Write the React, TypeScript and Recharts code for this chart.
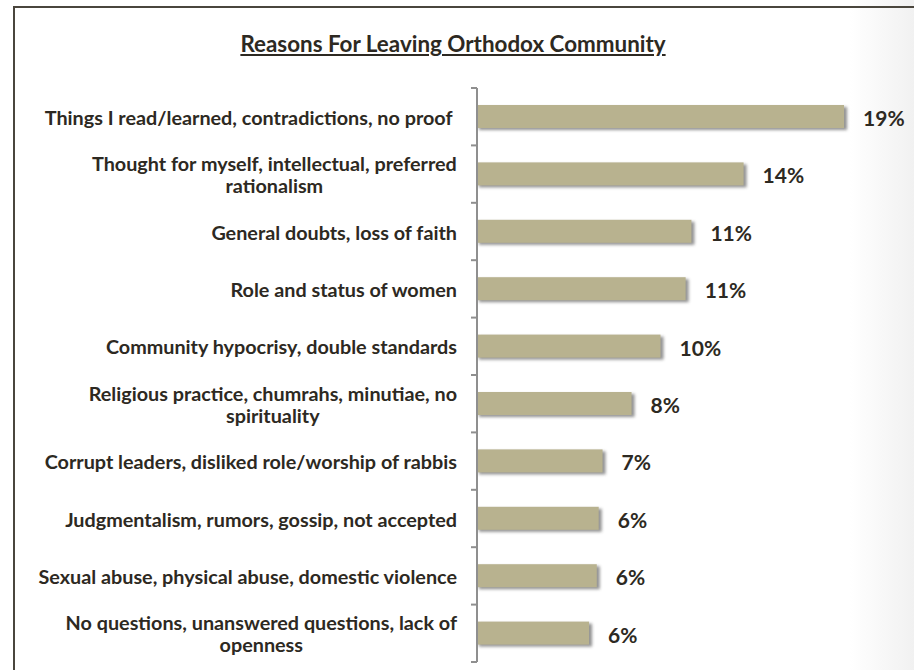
import React from "react";
import { BarChart, Bar, XAxis, YAxis, LabelList } from "recharts";

const categories = [
  "Things I read/learned, contradictions, no proof\u00a0",
  "Thought for myself, intellectual, preferred\nrationalism",
  "General doubts, loss of faith",
  "Role and status of women",
  "Community hypocrisy, double standards",
  "Religious practice, chumrahs, minutiae, no\nspirituality",
  "Corrupt leaders, disliked role/worship of rabbis",
  "Judgmentalism, rumors, gossip, not accepted",
  "Sexual abuse, physical abuse, domestic violence",
  "No questions, unanswered questions, lack of\nopenness",
];
const values = [19.0, 13.8, 11.1, 10.8, 9.5, 8.0, 6.5, 6.3, 6.2, 5.8];
const valueLabels = ["19%", "14%", "11%", "11%", "10%", "8%", "7%", "6%", "6%", "6%"];

const data = categories.map((name, i) => ({ name, value: values[i], label: valueLabels[i] }));

const W = 914;
const H = 670;
const MARGIN = { top: 88, right: 12, bottom: 8, left: 0 };
const AXIS_W = 477;
const BAND = (H - MARGIN.top - MARGIN.bottom) / categories.length;
const FONT = "Lato, 'Open Sans', sans-serif";
const LABEL_SIZE = 19.8;
const TEXT_COLOR = "#2d2922";
const BAR_COLOR = "#b8b28f";
const AXIS_COLOR = "#8f8f8f";

let canvasCtx: CanvasRenderingContext2D | null = null;
function measure(text: string): number {
  if (!canvasCtx) {
    const c = document.createElement("canvas");
    canvasCtx = c.getContext("2d");
  }
  if (!canvasCtx) return text.length * 9;
  canvasCtx.font = `bold ${LABEL_SIZE}px Lato`;
  return canvasCtx.measureText(text).width;
}

const CategoryTick = (props: any) => {
  const { y, payload, index } = props;
  const axisX = MARGIN.left + AXIS_W;
  const right = axisX - 20;
  const lines = String(payload.value).split("\n");
  const top = y - BAND / 2;
  const isLast = index === categories.length - 1;
  let texts;
  if (lines.length === 1) {
    texts = (
      <text x={right} y={y} textAnchor="end" dominantBaseline="central" fill={TEXT_COLOR}
        style={{ fontFamily: FONT, fontWeight: 700, fontSize: LABEL_SIZE, whiteSpace: "pre" }}>
        {lines[0]}
      </text>
    );
  } else {
    const w0 = measure(lines[0]);
    const cx = right - w0 / 2;
    texts = (
      <text x={cx} y={y - 10} textAnchor="middle" fill={TEXT_COLOR}
        style={{ fontFamily: FONT, fontWeight: 700, fontSize: LABEL_SIZE }}>
        {lines.map((ln, i) => (
          <tspan key={i} x={cx} dy={i === 0 ? "0.35em" : 22}>
            {ln}
          </tspan>
        ))}
      </text>
    );
  }
  return (
    <g>
      <line x1={axisX - 6} x2={axisX} y1={top} y2={top} stroke={AXIS_COLOR} strokeWidth={2} />
      {isLast && (
        <line x1={axisX - 6} x2={axisX} y1={top + BAND} y2={top + BAND} stroke={AXIS_COLOR} strokeWidth={2} />
      )}
      {texts}
    </g>
  );
};

const ShadowBar = (props: any) => {
  const { x, y, width, height, fill } = props;
  return (
    <g>
      <defs>
        <filter id="barShadowBlur" x="-20%" y="-50%" width="140%" height="200%">
          <feGaussianBlur stdDeviation="1.6" />
        </filter>
      </defs>
      <rect x={x + 2} y={y + 2} width={width + 1} height={height} fill="#3a3a3a" opacity={0.55} filter="url(#barShadowBlur)" />
      <rect x={x} y={y} width={width} height={height} fill={fill} />
    </g>
  );
};

const ValueLabel = (props: any) => {
  const { x, y, width, height, value } = props;
  return (
    <text x={x + width + 19} y={y + height / 2 + 1} dominantBaseline="central" fill={TEXT_COLOR}
      style={{ fontFamily: FONT, fontWeight: 700, fontSize: 21 }}>
      {value}
    </text>
  );
};

export default function App() {
  return (
    <div
      style={{
        position: "absolute",
        left: 0,
        top: 0,
        width: W,
        height: H,
        overflow: "hidden",
        background: "linear-gradient(to right, #ffffff 0%, #ffffff 93%, #f1f1f1 100%)",
      }}
    >
      <div
        style={{
          position: "absolute",
          left: 13,
          top: 6,
          right: -4,
          bottom: -4,
          borderTop: "2px solid #4a463d",
          borderLeft: "2px solid #4a463d",
        }}
      />
      <div
        style={{
          position: "absolute",
          left: 0,
          top: 31,
          width: 906,
          textAlign: "center",
          fontFamily: FONT,
          fontWeight: 700,
          fontSize: 22.4,
          lineHeight: "25px",
          color: TEXT_COLOR,
          textDecoration: "underline",
        }}
      >
        Reasons For Leaving Orthodox Community
      </div>
      <div style={{ position: "absolute", left: 0, top: 0 }}>
        <BarChart layout="vertical" width={W} height={H} data={data} margin={MARGIN}>
          <XAxis type="number" domain={[0, 22]} hide />
          <YAxis
            type="category"
            dataKey="name"
            width={AXIS_W}
            interval={0}
            axisLine={{ stroke: AXIS_COLOR, strokeWidth: 2 }}
            tickLine={false}
            tick={<CategoryTick />}
          />
          <Bar dataKey="value" fill={BAR_COLOR} barSize={23} isAnimationActive={false} shape={<ShadowBar />}>
            <LabelList dataKey="label" content={<ValueLabel />} />
          </Bar>
        </BarChart>
      </div>
    </div>
  );
}
